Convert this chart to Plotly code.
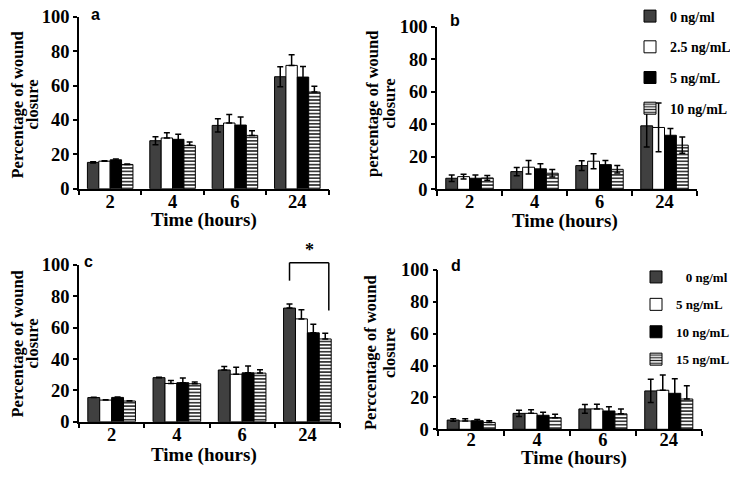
import plotly.graph_objects as go

# page is shown with the browser's default 8px body margin: compensate
OFF = 8
SCREEN_W, SCREEN_H = 738, 478
W, H = SCREEN_W - OFF, SCREEN_H - OFF

times = ["2", "4", "6", "24"]
names_abc = ["0 ng/ml", "2.5 ng/mL", "5 ng/mL", "10 ng/mL"]
names_d = ["\u00a0\u00a0\u00a00 ng/ml", "5 ng/mL", "10 ng/mL", "15 ng/mL"]

# panel a
a_c0 = [15.3, 27.9, 36.8, 65.1]
a_c1 = [16.0, 29.5, 38.2, 71.7]
a_c2 = [16.8, 28.7, 37.0, 64.9]
a_c3 = [14.1, 25.2, 31.0, 56.2]
a_e0 = [0.3, 2.3, 3.9, 5.8]
a_e1 = [0.3, 3.1, 5.0, 6.2]
a_e2 = [0.5, 2.9, 4.7, 6.2]
a_e3 = [0.3, 1.9, 2.7, 3.3]

# panel b
b_c0 = [6.8, 10.9, 14.6, 39.1]
b_c1 = [7.8, 13.6, 17.3, 38.1]
b_c2 = [6.8, 12.6, 15.2, 33.3]
b_c3 = [7.0, 9.9, 12.3, 27.2]
b_e0 = [2.0, 2.5, 3.0, 13.0]
b_e1 = [1.5, 4.2, 4.6, 15.0]
b_e2 = [2.0, 3.2, 2.5, 4.2]
b_e3 = [1.5, 2.3, 2.3, 5.0]

# panel c
c_c0 = [15.4, 28.1, 33.0, 72.5]
c_c1 = [13.8, 24.4, 30.3, 65.6]
c_c2 = [15.5, 24.9, 31.2, 56.7]
c_c3 = [13.2, 24.2, 31.0, 52.8]
c_e0 = [0.2, 0.3, 2.2, 2.6]
c_e1 = [0.2, 1.9, 4.5, 5.8]
c_e2 = [0.2, 3.0, 4.4, 5.5]
c_e3 = [0.2, 1.1, 2.1, 3.7]

# panel d
d_c0 = [5.8, 10.0, 12.8, 24.1]
d_c1 = [5.2, 10.0, 12.8, 24.5]
d_c2 = [5.4, 8.8, 11.5, 22.6]
d_c3 = [4.3, 7.3, 9.7, 19.0]
d_e0 = [0.8, 1.9, 2.7, 7.3]
d_e1 = [1.5, 2.3, 2.9, 9.6]
d_e2 = [0.7, 1.9, 2.7, 9.2]
d_e3 = [1.0, 2.1, 3.1, 8.4]

BARGAP = 0.27
SERIF = "Liberation Serif"
SANS = "Liberation Sans"


def px(x):
    """screen x (px) -> paper fraction"""
    return (x - OFF) / W


def py(y):
    """screen y (px from top) -> paper fraction"""
    return 1 - (y - OFF) / H


panels = [
    dict(i=1, means=[a_c0, a_c1, a_c2, a_c3], errs=[a_e0, a_e1, a_e2, a_e3],
         minus=[True, False, True, False], names=names_abc, legend=None,
         box=(79, 328.5, 16.7, 188.7), label="a", label_xy=(95, 15),
         ytitle=("Percentage of wound", "closure"), yt_x=(16.5, 31.5), yt_y=105,
         xt_xy=(204, 220), standoff=-5),
    dict(i=2, means=[b_c0, b_c1, b_c2, b_c3], errs=[b_e0, b_e1, b_e2, b_e3],
         minus=[True, True, True, True], names=names_abc, legend="legend",
         box=(437, 697, 27, 189.3), label="b", label_xy=(455, 20),
         ytitle=("percentage of wound", "closure"), yt_x=(373, 389.5), yt_y=104,
         xt_xy=(565, 221), standoff=-5),
    dict(i=3, means=[c_c0, c_c1, c_c2, c_c3], errs=[c_e0, c_e1, c_e2, c_e3],
         minus=[False, False, False, False], names=names_abc, legend=None,
         box=(79, 340, 265, 421.7), label="c", label_xy=(88, 261),
         ytitle=("Percentage of wound", "closure"), yt_x=(16.5, 31.5), yt_y=344,
         xt_xy=(204, 455), standoff=-5),
    dict(i=4, means=[d_c0, d_c1, d_c2, d_c3], errs=[d_e0, d_e1, d_e2, d_e3],
         minus=[True, False, True, False], names=names_d, legend="legend2",
         box=(438.3, 701.7, 270, 429.3), label="d", label_xy=(456, 265),
         ytitle=("Perccentage of wound", "closure"), yt_x=(370, 389), yt_y=353,
         xt_xy=(574, 458), standoff=-7),
]

fills = ["#404040", "white", "black", "white"]

fig = go.Figure()
annotations = []
layout = {}

tickfont = dict(family=SERIF, size=18.5, color="black", weight="bold")

for p in panels:
    i = p["i"]
    xa = "x" if i == 1 else f"x{i}"
    ya = "y" if i == 1 else f"y{i}"
    for k in range(4):
        marker = dict(color=fills[k], line=dict(color="black", width=1))
        if k == 3:
            marker["pattern"] = dict(shape="-", fgcolor="#222222", bgcolor="white",
                                     size=3.4, solidity=0.45, fillmode="replace")
        err = p["errs"][k]
        fig.add_trace(go.Bar(
            x=times, y=p["means"][k], name=p["names"][k],
            xaxis=xa, yaxis=ya, marker=marker,
            error_y=dict(type="data", symmetric=False, array=err,
                         arrayminus=err if p["minus"][k] else [0] * len(err),
                         color="black", thickness=1.5, width=3),
            showlegend=p["legend"] is not None,
            legend=p["legend"] if p["legend"] else "legend",
            legendgroup=f"{p['label']}{k}",
        ))
    x0, x1, y0, y1 = p["box"]
    axkey = "xaxis" if i == 1 else f"xaxis{i}"
    aykey = "yaxis" if i == 1 else f"yaxis{i}"
    layout[axkey] = dict(
        domain=[px(x0), px(x1)], anchor=ya, type="category", automargin=False,
        range=[-0.5, 3.5], showline=True, linecolor="black", linewidth=1.5,
        ticks="outside", tickson="boundaries", ticklen=5, tickwidth=1.5,
        tickcolor="black", showgrid=False, zeroline=False, tickfont=tickfont,
        ticklabelstandoff=p["standoff"], ticklabeloverflow="allow",
    )
    layout[aykey] = dict(
        domain=[py(y1), py(y0)], anchor=xa, range=[0, 100], dtick=20,
        automargin=False, ticklabeloverflow="allow",
        showline=True, linecolor="black", linewidth=1.5, ticks="outside",
        ticklen=4, tickwidth=1.5, tickcolor="black", showgrid=False,
        zeroline=False, tickfont=tickfont,
    )
    # panel label
    lx, ly = p["label_xy"]
    annotations.append(dict(text=p["label"], x=px(lx), y=py(ly), xref="paper",
                            yref="paper", showarrow=False, xanchor="center",
                            yanchor="middle",
                            font=dict(family=SANS, size=16, color="black",
                                      weight="bold")))
    # y title (two lines)
    for line, tx in zip(p["ytitle"], p["yt_x"]):
        annotations.append(dict(text=line, x=px(tx), y=py(p["yt_y"]),
                                xref="paper", yref="paper", showarrow=False,
                                textangle=-90, xanchor="center",
                                yanchor="middle",
                                font=dict(family=SERIF, size=16.5, color="black",
                                          weight="bold")))
    # x title
    tx, ty = p["xt_xy"]
    annotations.append(dict(text="Time (hours)", x=px(tx), y=py(ty),
                            xref="paper", yref="paper", showarrow=False,
                            xanchor="center", yanchor="middle",
                            font=dict(family=SERIF, size=19, color="black",
                                      weight="bold")))

# significance bracket in panel c (24 h group: 0 ng/ml vs 10 ng/mL)
bw = (1 - BARGAP) / 4
cat24 = times.index("24")
left_pos = cat24 - 1.5 * bw
right_pos = cat24 + 1.5 * bw + 0.3 * bw


def dom(pos):
    return (pos + 0.5) / 4


top = 1.015
shapes = [
    dict(type="line", xref="x3 domain", yref="y3 domain", x0=dom(left_pos),
         x1=dom(left_pos), y0=0.90, y1=top, line=dict(color="black", width=1.5)),
    dict(type="line", xref="x3 domain", yref="y3 domain", x0=dom(left_pos),
         x1=dom(right_pos), y0=top, y1=top, line=dict(color="black", width=1.5)),
    dict(type="line", xref="x3 domain", yref="y3 domain", x0=dom(right_pos),
         x1=dom(right_pos), y0=0.71, y1=top, line=dict(color="black", width=1.5)),
]
annotations.append(dict(text="*", xref="x3 domain", yref="y3 domain",
                        x=(dom(left_pos) + dom(right_pos)) / 2, y=top + 0.005,
                        showarrow=False, xanchor="center", yanchor="bottom",
                        font=dict(family=SERIF, size=18, color="black",
                                  weight="bold")))

fig.update_layout(
    template="none",
    width=W, height=H, margin=dict(l=0, r=0, t=0, b=0, autoexpand=False),
    paper_bgcolor="white", plot_bgcolor="white",
    font=dict(family=SERIF, color="black"),
    barmode="group", bargap=BARGAP, bargroupgap=0,
    showlegend=True,
    legend=dict(x=px(630), y=py(0.5), xanchor="left", yanchor="top",
                font=dict(family=SERIF, size=14, color="black", weight="bold"),
                tracegroupgap=9.5, bgcolor="rgba(0,0,0,0)",
                traceorder="grouped"),
    legend2=dict(x=px(636), y=py(262), xanchor="left", yanchor="top",
                 font=dict(family=SERIF, size=13, color="black", weight="bold"),
                 tracegroupgap=7.5, bgcolor="rgba(0,0,0,0)",
                 traceorder="grouped"),
    annotations=annotations, shapes=shapes,
    **layout,
)

fig.write_html("out.html")
